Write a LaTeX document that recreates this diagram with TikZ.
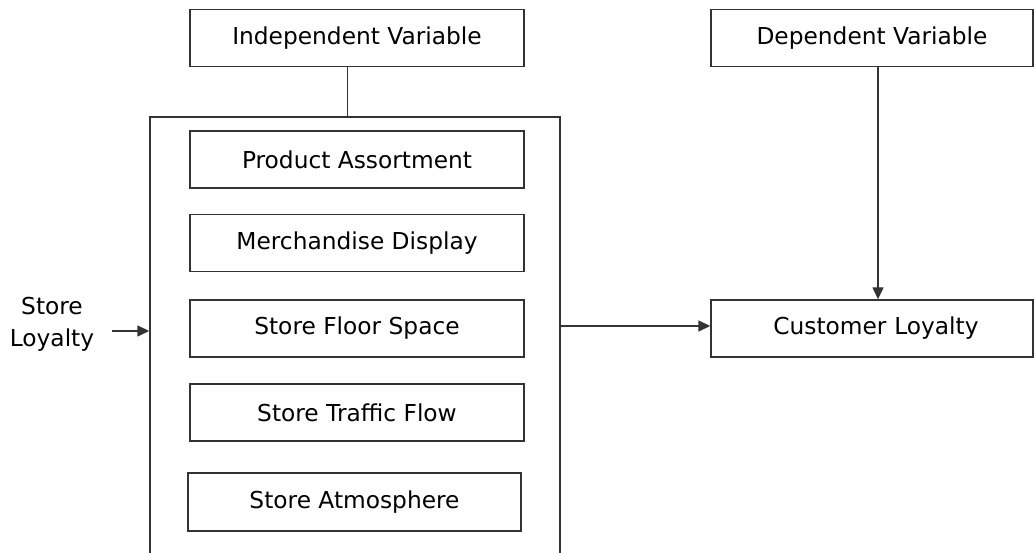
\documentclass[tikz,border=0pt]{standalone}
\usepackage{fontspec}
\setmainfont{DejaVu Sans}
\usetikzlibrary{arrows.meta}
\definecolor{ln}{HTML}{333333}
\tikzset{
  box/.style={draw=ln, line width=1.4pt, minimum width=334pt, minimum height=57pt, inner sep=0pt, font=\fontsize{23.3}{28}\selectfont, text=black},
  conn/.style={draw=ln, line width=1.4pt},
  arr/.style={conn, -{Triangle[length=12pt,width=11pt]}}
}
\begin{document}
\begin{tikzpicture}[x=1pt,y=-1pt]
\useasboundingbox (0,0) rectangle (1034,553);
\clip (0,0) rectangle (1034,553);
% large container (bottom cut off by picture edge)
\node[box, minimum width=410pt, minimum height=500pt] (big) at (355,367) {};
\node[box] (iv) at (357,38) {Independent Variable};
\node[box, minimum width=322pt] (dv) at (872,38) {Dependent Variable};
\node[box] (pa) at (357,159.5) {Product Assortment};
\node[box] (md) at (357,243) {Merchandise Display};
\node[box] (sfs) at (357,328.5) {Store Floor Space};
\node[box] (stf) at (357,412.5) {Store Traffic Flow};
\node[box, minimum width=333pt, minimum height=58pt] (sa) at (354.5,502) {Store Atmosphere};
\node[box, minimum width=322pt, text width=322pt, align=center] (cl) at (872,328.5) {\hspace*{8pt}Customer Loyalty};
\node[align=center, font=\fontsize{23.3}{32}\selectfont, text=black, inner sep=0pt] (sl) at (52,324) {Store\\ Loyalty};
% connectors
\draw[conn] ([xshift=-9.5pt]iv.south) -- ([xshift=-9.5pt]iv.south |- big.north);
\draw[arr] ([xshift=6pt]dv.south) -- ([xshift=6pt]dv.south |- cl.north);
\coordinate (s) at (112,331);
\draw[arr] (s) -- (s -| big.west);
\draw[arr] ([yshift=2.5pt]cl.west -| big.east) -- ([yshift=2.5pt]cl.west);
\end{tikzpicture}
\end{document}
